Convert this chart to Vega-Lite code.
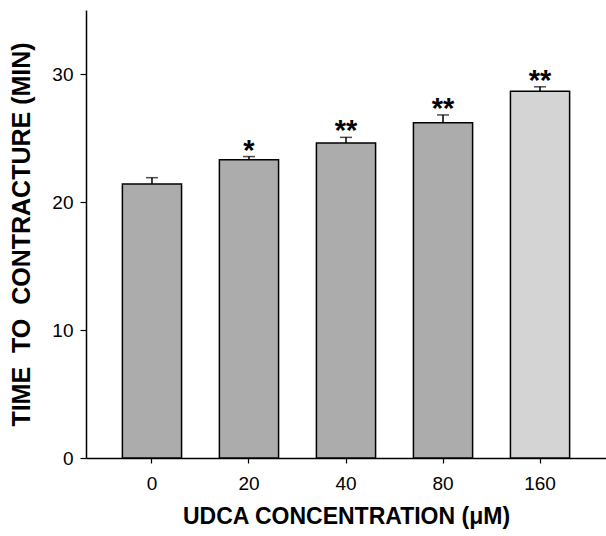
{
  "$schema": "https://vega.github.io/schema/vega-lite/v6.json",
  "autosize": "none",
  "width": 520,
  "height": 448,
  "padding": {"left": 86, "top": 10, "right": 0, "bottom": 78},
  "background": "white",
  "config": {
    "view": {"stroke": null},
    "font": "Liberation Sans",
    "axis": {"labelFont": "Liberation Sans", "titleFont": "Liberation Sans", "labelColor": "black", "titleColor": "black", "domainColor": "black", "tickColor": "black", "grid": false}
  },
  "data": {
    "values": [
      {"conc": "0", "mean": 21.4, "upper": 21.9, "sig": "", "shade": "a"},
      {"conc": "20", "mean": 23.3, "upper": 23.55, "sig": "*", "shade": "a"},
      {"conc": "40", "mean": 24.6, "upper": 25.05, "sig": "**", "shade": "a"},
      {"conc": "80", "mean": 26.2, "upper": 26.8, "sig": "**", "shade": "a"},
      {"conc": "160", "mean": 28.65, "upper": 29.0, "sig": "**", "shade": "b"}
    ]
  },
  "encoding": {
    "x": {
      "field": "conc",
      "type": "nominal",
      "sort": ["0", "20", "40", "80", "160"],
      "scale": {"paddingInner": 0.39, "paddingOuter": 0.375},
      "axis": {
        "title": "UDCA CONCENTRATION (μM)",
        "labelAngle": 0,
        "labelFontSize": 19,
        "labelPadding": 11,
        "tickSize": 5,
        "tickWidth": 1.2,
        "domainWidth": 1.5,
        "titleFontSize": 23,
        "titleFontWeight": "bold",
        "titlePadding": 12
      }
    }
  },
  "layer": [
    {
      "mark": {"type": "bar", "stroke": "black", "strokeWidth": 1.5},
      "encoding": {
        "y": {
          "field": "mean",
          "type": "quantitative",
          "scale": {"domain": [0, 35], "nice": false},
          "axis": {
            "title": "TIME\u00a0 TO\u00a0 CONTRACTURE (MIN)",
            "values": [0, 10, 20, 30],
            "labelFontSize": 19,
            "labelPadding": 7,
            "tickSize": 6,
            "tickWidth": 1.2,
            "domainWidth": 1.5,
            "titleFontSize": 25,
            "titleFontWeight": "bold",
            "titlePadding": 17
          }
        },
        "fill": {
          "field": "shade",
          "type": "nominal",
          "scale": {"domain": ["a", "b"], "range": ["#acacac", "#d4d4d4"]},
          "legend": null
        }
      }
    },
    {
      "mark": {"type": "rule", "color": "black", "strokeWidth": 1.5},
      "encoding": {
        "y": {"field": "mean", "type": "quantitative"},
        "y2": {"field": "upper"}
      }
    },
    {
      "mark": {"type": "tick", "color": "black", "thickness": 1.5, "size": 12},
      "encoding": {
        "y": {"field": "upper", "type": "quantitative"}
      }
    },
    {
      "mark": {"type": "text", "fontSize": 29, "fontWeight": "bold", "baseline": "alphabetic", "dy": 3, "color": "black"},
      "encoding": {
        "y": {"field": "upper", "type": "quantitative"},
        "text": {"field": "sig"}
      }
    }
  ]
}
